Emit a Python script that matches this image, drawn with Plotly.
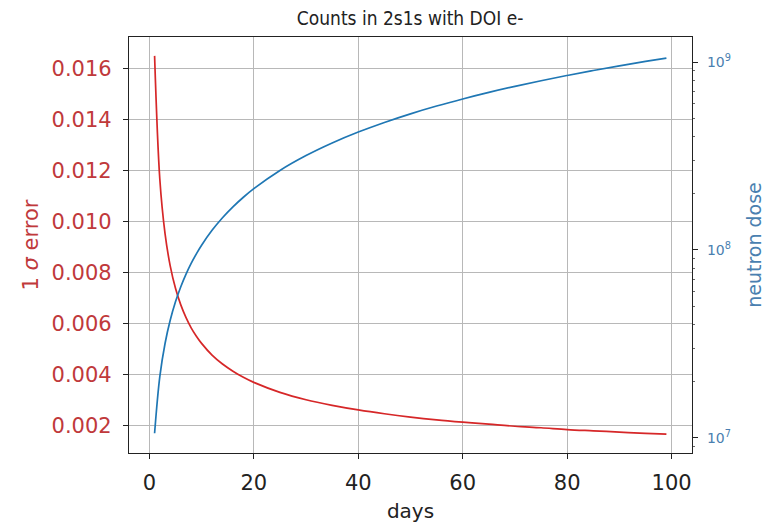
import plotly.graph_objects as go

days = [1, 2, 3, 4, 5, 6, 7, 8, 9, 10, 12, 14, 16, 18, 20, 25, 30, 35, 40, 45, 50,
        55, 60, 65, 70, 75, 80, 85, 90, 95, 99]
error_1sigma = [0.0165, 0.01167, 0.00953, 0.00825, 0.00738, 0.00674, 0.00624, 0.00583,
                0.0055, 0.00522, 0.00476, 0.00441, 0.00413, 0.00389, 0.00369, 0.00330,
                0.00301, 0.00279, 0.00261, 0.00246, 0.00233, 0.00222, 0.00213, 0.00205,
                0.00197, 0.00191, 0.00184, 0.00179, 0.00174, 0.00169, 0.00166]
neutron_dose = [1.06e7, 2.12e7, 3.18e7, 4.24e7, 5.3e7, 6.36e7, 7.42e7, 8.48e7, 9.54e7,
                1.06e8, 1.272e8, 1.484e8, 1.696e8, 1.908e8, 2.12e8, 2.65e8, 3.18e8,
                3.71e8, 4.24e8, 4.77e8, 5.3e8, 5.83e8, 6.36e8, 6.89e8, 7.42e8, 7.95e8,
                8.48e8, 9.01e8, 9.54e8, 1.007e9, 1.049e9]

x_ticks = [0, 20, 40, 60, 80, 100]
left_ticks = [0.002, 0.004, 0.006, 0.008, 0.010, 0.012, 0.014, 0.016]
left_ticklabels = ["0.002", "0.004", "0.006", "0.008", "0.010", "0.012", "0.014", "0.016"]
right_ticks = [1e7, 1e8, 1e9]
right_ticklabels = ["10<sup>7</sup>", "10<sup>8</sup>", "10<sup>9</sup>"]
right_minor = [m * 10 ** e for e in (6, 7, 8) for m in range(2, 10)] + [2e9]

RED = "#d62728"
BLUE = "#1f77b4"
RED_TXT = "#c0393b"
BLUE_TXT = "#4a7fb0"
FONT = "DejaVu Sans"

fig = go.Figure()
fig.add_trace(go.Scatter(x=days, y=error_1sigma, mode="lines",
                         line=dict(color=RED, width=1.7, shape="spline"),
                         showlegend=False, yaxis="y"))
fig.add_trace(go.Scatter(x=days, y=neutron_dose, mode="lines",
                         line=dict(color=BLUE, width=1.7, shape="spline"),
                         showlegend=False, yaxis="y2"))

fig.update_layout(
    width=763, height=515,
    margin=dict(l=121, r=79, t=29, b=70),
    paper_bgcolor="white", plot_bgcolor="white",
    font=dict(family=FONT, color="#222"),
    title=dict(text="Counts in 2s1s with DOI e-", x=0.527, xanchor="center", y=0.979, yanchor="middle",
               font=dict(family="DejaVu Sans Condensed, " + FONT, size=19, color="#222")),
    xaxis=dict(range=[-3.9, 103.9], tickvals=x_ticks, ticks="outside", ticklen=5, tickcolor="#222",
               ticklabelstandoff=6, automargin=False,
               showline=True, linecolor="#222", linewidth=1.2, mirror=True,
               showgrid=True, gridcolor="#b8b8b8", gridwidth=1, zeroline=False,
               tickfont=dict(size=21, color="#222"),
               title=dict(text="days", font=dict(size=20, color="#222"), standoff=12)),
    yaxis=dict(range=[0.00092, 0.01724], tickvals=left_ticks, ticktext=left_ticklabels,
               ticks="outside", ticklen=5, tickcolor="#222", ticklabelstandoff=7, automargin=False,
               showline=True, linecolor="#222", linewidth=1.2,
               showgrid=True, gridcolor="#b8b8b8", gridwidth=1, zeroline=False,
               tickfont=dict(size=21, color=RED_TXT),
               title=dict(text="1 <i>σ</i> error", font=dict(size=21, color=RED_TXT), standoff=7)),
    yaxis2=dict(type="log", range=[6.92, 9.133], overlaying="y", side="right",
                tickvals=right_ticks, ticktext=right_ticklabels, automargin=False,
                ticks="outside", ticklen=5, tickcolor="#222", ticklabelstandoff=6,
                minor=dict(tickvals=right_minor, ticks="outside", ticklen=2, tickcolor="#666", showgrid=False),
                showline=True, linecolor="#222", linewidth=1.2,
                showgrid=False, zeroline=False,
                tickfont=dict(size=14, color=BLUE_TXT),
                title=dict(text="neutron dose", font=dict(size=19, color=BLUE_TXT), standoff=17)),
)

fig.write_html("out.html")
